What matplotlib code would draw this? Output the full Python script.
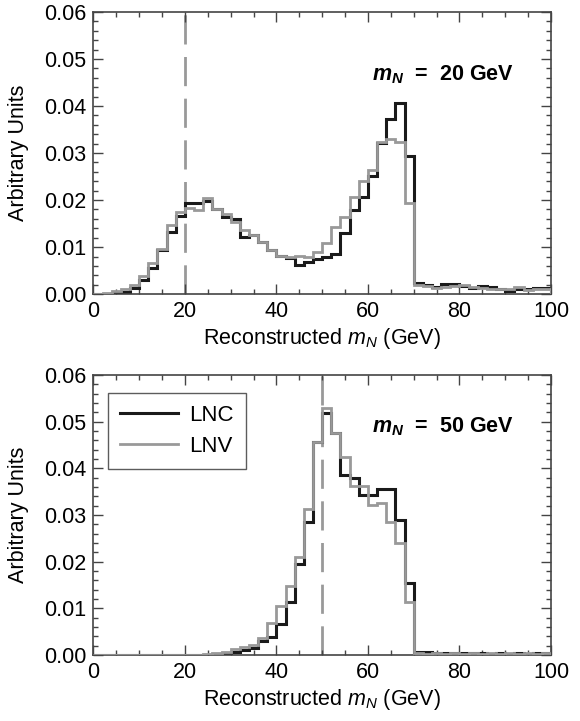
import matplotlib
matplotlib.use("Agg")
import matplotlib.pyplot as plt
import numpy as np
from matplotlib.ticker import MultipleLocator, FormatStrFormatter

plt.rcParams["font.family"] = ["Liberation Sans", "DejaVu Sans"]
plt.rcParams["mathtext.fontset"] = "custom"
plt.rcParams["mathtext.rm"] = "Liberation Sans"
plt.rcParams["mathtext.it"] = "Liberation Sans:italic"
plt.rcParams["mathtext.bf"] = "Liberation Sans:bold"
plt.rcParams["mathtext.bfit"] = "Liberation Sans:italic:bold"

# 2 GeV bins from 0 to 100
bin_edges = np.arange(0, 102, 2)

# m_N = 20 GeV
lnc_20 = [0.0000, 0.0001, 0.0003, 0.0005, 0.0014, 0.0031, 0.0055, 0.0094, 0.0133, 0.0166,
          0.0194, 0.0194, 0.0199, 0.0180, 0.0163, 0.0160, 0.0121, 0.0126, 0.0111, 0.0094,
          0.0081, 0.0076, 0.0062, 0.0069, 0.0074, 0.0078, 0.0085, 0.0130, 0.0179, 0.0207,
          0.0252, 0.0321, 0.0372, 0.0407, 0.0294, 0.0024, 0.0019, 0.0016, 0.0021, 0.0021,
          0.0017, 0.0014, 0.0017, 0.0016, 0.0010, 0.0007, 0.0012, 0.0012, 0.0014, 0.0014]
lnv_20 = [0.0000, 0.0002, 0.0006, 0.0011, 0.0020, 0.0038, 0.0066, 0.0096, 0.0146, 0.0175,
          0.0183, 0.0178, 0.0204, 0.0180, 0.0170, 0.0154, 0.0136, 0.0126, 0.0111, 0.0094,
          0.0081, 0.0078, 0.0081, 0.0078, 0.0089, 0.0108, 0.0142, 0.0163, 0.0206, 0.0241,
          0.0264, 0.0323, 0.0330, 0.0323, 0.0193, 0.0019, 0.0017, 0.0014, 0.0016, 0.0017,
          0.0019, 0.0016, 0.0014, 0.0012, 0.0010, 0.0012, 0.0016, 0.0009, 0.0010, 0.0012]

# m_N = 50 GeV
lnc_50 = [0.0000, 0.0000, 0.0000, 0.0000, 0.0000, 0.0000, 0.0000, 0.0000, 0.0000, 0.0000,
          0.0000, 0.0001, 0.0001, 0.0002, 0.0004, 0.0007, 0.0011, 0.0015, 0.0029, 0.0038,
          0.0066, 0.0114, 0.0196, 0.0286, 0.0457, 0.0518, 0.0475, 0.0386, 0.0379, 0.0343,
          0.0343, 0.0355, 0.0355, 0.0289, 0.0155, 0.0007, 0.0006, 0.0005, 0.0004, 0.0004,
          0.0005, 0.0004, 0.0004, 0.0003, 0.0004, 0.0003, 0.0004, 0.0003, 0.0004, 0.0004]
lnv_50 = [0.0000, 0.0000, 0.0000, 0.0000, 0.0000, 0.0000, 0.0000, 0.0000, 0.0000, 0.0001,
          0.0001, 0.0001, 0.0002, 0.0004, 0.0007, 0.0012, 0.0018, 0.0022, 0.0036, 0.0069,
          0.0104, 0.0148, 0.0209, 0.0312, 0.0457, 0.0529, 0.0475, 0.0424, 0.0362, 0.0362,
          0.0321, 0.0326, 0.0286, 0.0239, 0.0114, 0.0004, 0.0003, 0.0004, 0.0003, 0.0004,
          0.0003, 0.0004, 0.0003, 0.0004, 0.0003, 0.0004, 0.0003, 0.0004, 0.0003, 0.0004]

panels = [(lnc_20, lnv_20, 20, r"$\mathbfit{m_N}$  =  20 GeV", 0.0466),
          (lnc_50, lnv_50, 50, r"$\mathbfit{m_N}$  =  50 GeV", 0.0490)]

frame_color = "#444444"

fig = plt.figure(figsize=(5.8, 7.21), dpi=100)
ax_top = fig.add_axes([0.161, 0.592, 0.789, 0.3915])
ax_bot = fig.add_axes([0.161, 0.0915, 0.789, 0.3885])

for ax, (lnc, lnv, mass, label, label_y) in zip([ax_top, ax_bot], panels):
    ax.axvline(mass, color="#999999", lw=2, dashes=(10.5, 4.5), zorder=1)
    ax.stairs(lnc, bin_edges, color="#1a1a1a", lw=2.2, label="LNC", zorder=2)
    ax.stairs(lnv, bin_edges, color="#999999", lw=2.0, label="LNV", zorder=3)
    ax.set_xlim(0, 100)
    ax.set_ylim(0, 0.06)
    ax.xaxis.set_major_locator(MultipleLocator(20))
    ax.xaxis.set_minor_locator(MultipleLocator(5))
    ax.yaxis.set_major_locator(MultipleLocator(0.01))
    ax.yaxis.set_minor_locator(MultipleLocator(0.002))
    ax.yaxis.set_major_formatter(FormatStrFormatter("%.2f"))
    ax.tick_params(which="both", direction="in", top=True, right=True,
                   color=frame_color, labelsize=15.5, width=1)
    ax.tick_params(which="major", length=7, pad=5)
    ax.tick_params(which="minor", length=3.5)
    for s in ax.spines.values():
        s.set_color(frame_color)
        s.set_linewidth(1.2)
    ax.set_xlabel(r"Reconstructed $m_N$ (GeV)", fontsize=15.5, labelpad=3)
    ax.set_ylabel("Arbitrary Units", fontsize=15.5, labelpad=11)
    ax.text(76.5, label_y, label, fontsize=15.5, fontweight="bold", ha="center", va="center")

leg = ax_bot.legend(loc="upper left", fontsize=16, frameon=True, fancybox=False,
                    edgecolor="#333333", handlelength=2.6, handletextpad=0.5,
                    borderpad=0.55, labelspacing=0.45,
                    bbox_to_anchor=(0.032, 0.936), borderaxespad=0)
leg.get_frame().set_linewidth(1.0)

fig.savefig("out.png", dpi=100)
